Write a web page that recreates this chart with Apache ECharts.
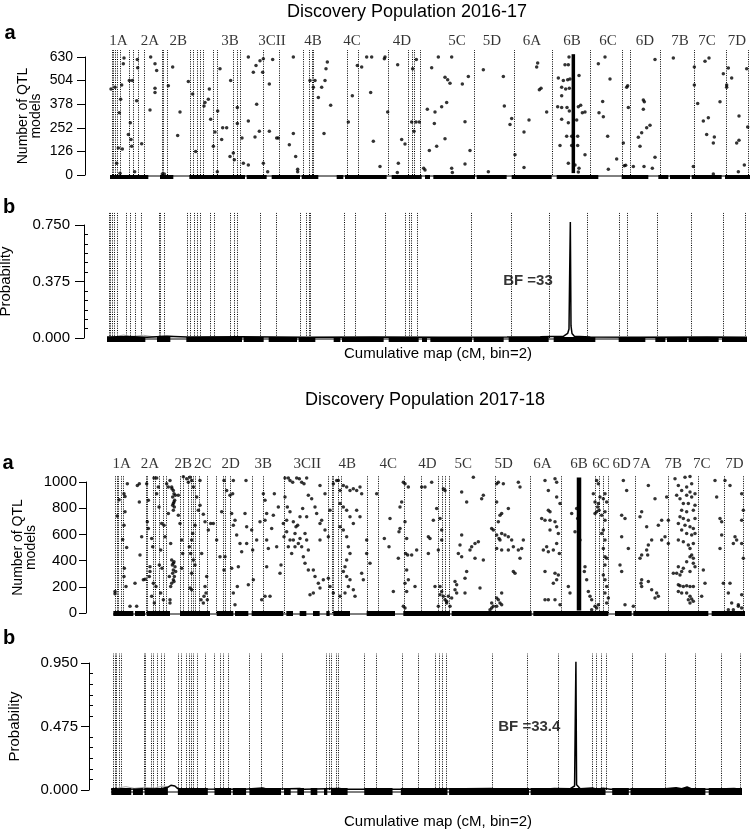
<!DOCTYPE html>
<html><head><meta charset="utf-8">
<script src="https://cdn.jsdelivr.net/npm/echarts@6/dist/echarts.min.js"></script>
<style>html,body{margin:0;padding:0;background:#fff}#c{width:750px;height:831px}</style>
</head><body><div id="c"></div>
<script>
// ===== Discovery Population 2016-17 =====
const title1 = 'Discovery Population 2016-17';
const chrNames1 = ['1A','2A','2B','3B','3CII','4B','4C','4D','5C','5D','6A','6B','6C','6D','7B','7C','7D'];
const chrLabelPos1 = [25,120,205,360,486,609,726,876,1041,1146,1266,1386,1494,1605,1710,1791,1881];
const chrBounds1 = [5,10,15,22,30,58,68,85,102,155,160,170,240,250,260,270,280,310,320,370,382,390,460,508,578,598,605,610,710,745,835,895,905,913,930,1093,1213,1325,1440,1535,1560,1650,1753,1848,1913];
const yTicks1a = [0,126,252,378,504,630];
const yTicks1b = [0,0.375,0.75];
const qtlModels1 = [
[3,459],[15,468],[42,625],[40,594],[35,481],[32,405],[28,333],[25,144],[20,63],[30,9],[37,139],[58,504],[67,504],[82,616],[83,572],[80,396],[61,279],[55,216],[63,189],[65,153],[74,18],
[122,630],[135,594],[140,558],[135,463],[135,441],[120,347],[95,167],
[175,477],[188,576],[210,337],[203,211],[157,5],[163,5],
[235,499],[248,432],[257,126],[282,369],[285,387],[295,405],[298,459],[302,297],[315,229],[310,153],[322,18],[330,567],[323,342],[338,252],[335,189],[350,252],[362,504],[360,99],[370,117],[382,360],[382,275],[373,81],[396,198],[400,63],[415,54],[415,630],
[430,549],[438,585],[450,610],[460,621],[415,288],[435,203],[448,234],[440,378],[458,549],[460,63],[473,18],[478,486],[478,234],[488,617],[500,198],[505,198],[538,162],[550,630],[550,221],[557,99],[563,31],[563,18],
[600,504],[610,468],[615,504],[625,414],[635,468],[645,504],[652,603],[648,567],[662,373],[642,221],
[715,283],[727,423],[742,585],[755,576],[770,630],[785,630],[782,441],[790,180],
[825,630],[823,621],[863,589],[833,337],[810,45],[865,63],[862,13],[875,189],[885,166],[908,567],[919,617],[905,283],[918,283],[912,234],[928,283],[941,36],[945,27],
[985,630],[1025,630],[965,572],[1005,522],[1013,508],[1020,490],[1057,486],[1075,526],[952,351],[975,337],[995,365],[1010,387],[973,275],[958,131],[980,153],[1005,194],[1065,284],[1080,131],[1065,59],[1025,36],[1027,13],
[1120,562],[1180,526],[1183,369],[1205,301],[1200,270],[1135,18],[1215,108],
[1283,598],[1280,576],[1288,455],[1293,463],[1310,337],[1257,293],[1242,230],[1242,40],
[1377,630],[1365,589],[1375,589],[1345,518],[1360,504],[1373,508],[1380,513],[1355,468],[1367,459],[1378,463],[1355,423],[1343,364],[1355,360],[1371,360],[1407,531],[1405,365],[1412,373],[1417,333],[1425,337],[1378,342],[1355,297],[1375,279],[1400,293],[1350,157],[1370,207],[1385,207],[1403,207],[1385,157],[1403,157],[1425,108],[1375,63],[1405,16],[1407,36],[1395,54],
[1465,594],[1485,630],[1500,513],[1478,392],[1467,333],[1480,311],[1493,207],[1520,85],[1495,31],[1540,171],[1553,477],[1550,468],[1555,360],[1543,49],[1547,52],
[1600,400],[1603,391],[1600,351],[1620,265],[1610,252],[1595,225],[1585,202],[1590,153],[1635,616],[1635,95],[1627,36],[1602,45],[1570,45],
[1690,625],
[1753,576],[1785,607],[1797,625],[1753,481],[1763,382],[1795,306],[1780,288],[1790,216],[1813,203],[1810,171],[1750,45],[1810,5],
[1830,391],[1840,540],[1855,571],[1865,518],[1850,468],[1850,481],[1887,315],[1910,567],[1913,256],[1887,185],[1880,171],[1903,54],[1885,18]
];
const peak1 = [[1390,10],[1390,645]];
const baseSegs1 = [[0,115],[150,190],[238,405],[410,470],[485,570],[575,625],[680,700],[705,795],[795,830],[845,935],[945,960],[970,1095],[1100,1190],[1205,1325],[1340,1465],[1535,1615],[1645,1675],[1680,1740],[1745,1835],[1845,1920]];
const prob1 = [[0,0.006],[60,0.01],[120,0.005],[180,0.012],[240,0.006],[400,0.008],[600,0.005],[800,0.006],[1000,0.005],[1200,0.006],[1300,0.008],[1370,0.012],[1382,0.03],[1386,0.06],[1388,0.43],[1390,0.77],[1392,0.08],[1395,0.03],[1402,0.012],[1450,0.006],[1600,0.005],[1800,0.006],[1920,0.005]];
const prob1Grey = [[30,0.012],[50,0.02],[70,0.01],[110,0.018],[140,0.008],[170,0.015],[200,0.01]];
const bf1 = {text:'BF =33', pos:[1263,0.38]};

// ===== Discovery Population 2017-18 =====
const title2 = 'Discovery Population 2017-18';
const chrNames2 = ['1A','2A','2B','2C','2D','3B','3CII','4B','4C','4D','5C','5D','6A','6B','6C','6D','7A','7B','7C','7D'];
const chrLabelPos2 = [26,111,211,269,353,451,583,703,826,943,1051,1172,1288,1398,1464,1526,1586,1681,1766,1864];
const chrBounds2 = [6,11,16,23,31,98,101,121,126,139,151,159,201,209,226,233,239,246,259,283,309,329,336,351,416,451,513,646,656,661,676,683,761,796,874,924,974,986,996,1008,1146,1251,1344,1446,1458,1471,1486,1566,1666,1754,1834,1891];
const yTicks2a = [0,200,400,600,800,1000];
const yTicks2b = [0,0.475,0.95];
const qtlModels2a = [
[6,164],[6,147],[13,740],[18,865],[33,911],[36,890],[36,772],[33,670],[29,562],[41,500],[34,342],[33,278],[39,202],[51,51],[43,987],[71,51],[73,974],[79,987],[79,848],[81,443],[86,582],[91,253],[96,258],[66,228],
[101,987],[106,860],[103,696],[106,645],[111,354],[111,316],[109,278],[116,569],[119,506],[123,1030],[131,1030],[136,961],[131,911],[138,810],[143,481],[139,367],[147,342],[151,101],[143,152],[146,683],[153,670],[156,582],[161,987],[166,759],[121,228],[129,202],[116,127],[124,76],
[176,961],[181,936],[183,911],[179,886],[185,860],[181,835],[184,810],[181,784],[177,949],[187,898],[183,848],[179,822],[176,405],[181,380],[186,354],[181,329],[179,304],[184,278],[181,253],[176,228],[173,202],[169,278],[183,392],[188,316],[178,367],[183,240],[166,961],[171,1012],[173,531],[196,746],[201,683],[206,557],[209,455],[206,342],[196,898],[171,101],[171,76],
[211,1040],[221,1025],[226,999],[231,1037],[236,1012],[241,961],[251,886],[256,784],[246,670],[239,607],[236,557],[229,506],[233,455],[241,405],[246,367],[236,304],[231,190],[236,177],[261,1012],[266,455],[273,127],[264,101],[271,76],[276,202],[279,152],[281,278],[283,101],[276,696],[286,633],[293,683],[261,822],[271,754],
[301,683],[311,557],[321,430],[326,772],[333,1012],[341,936],[351,898],[361,1012],[359,911],[356,759],[361,670],[366,708],[371,595],[381,531],[386,468],[396,759],[401,658],[401,531],[399,1012],[376,354],[373,202],[361,152],[356,342],[366,63],[336,430],[333,329],
[416,633],[419,481],[421,253],[406,215],[431,557],[441,696],[451,911],[456,860],[456,708],[461,759],[461,557],[466,493],[461,354],[471,127],[476,645],[481,746],[484,911],[491,506],[496,810],[501,304],[504,367],[456,127],[446,101],
[516,1030],[526,1030],[531,1012],[539,999],[551,1030],[559,1025],[566,999],[573,987],[581,1030],[516,886],[523,810],[531,772],[541,696],[521,708],[521,620],[531,557],[526,506],[536,455],[546,506],[556,531],[561,569],[566,506],[576,607],[581,557],[571,430],[586,481],[586,898],[596,873],[606,810],[621,974],[636,911],[611,759],[621,683],[626,708],[636,633],[646,582],[621,557],[651,784],[661,987],[671,1012],[601,329],[616,228],[621,190],[631,253],[646,266],[651,202],[661,152],[601,152],[591,139],[576,380],[586,329],[606,278],[541,557],[546,607],[549,658],[554,670],[561,734],[569,797],[581,734],[511,683],[513,582]
];
const qtlModels2b = [
[676,1012],[681,936],[691,974],[701,961],[711,936],[721,949],[731,936],[741,961],[746,911],[681,835],[691,810],[701,784],[711,734],[721,683],[731,784],[741,734],[681,658],[691,633],[701,582],[706,506],[711,455],[701,405],[696,354],[691,316],[701,278],[711,253],[706,202],[696,152],[681,127],[721,177],[726,127],[746,304],[751,253],[761,557],[761,455],[771,380],
[791,911],[814,569],[828,506],[831,721],[861,810],[866,848],[871,999],[876,987],[886,961],[861,645],[858,620],[876,696],[881,569],[878,455],[856,417],[884,443],[881,329],[876,228],[886,253],[896,443],[881,164],[906,202],[841,164],[871,51],[876,38],
[926,961],[936,961],[956,999],[961,708],[946,582],[951,569],[946,455],[971,797],[976,481],[981,721],[986,557],[991,949],[996,936],[986,633],[911,481],[981,202],[986,164],[991,127],[996,101],[1001,76],[981,139],[966,202],[976,51],[1006,127],[1001,89],[1011,51],[1016,114],[1026,240],[1031,215],[1026,177],
[1046,923],[1061,848],[1081,1037],[1111,898],[1106,873],[1046,595],[1041,519],[1036,455],[1046,430],[1071,481],[1076,506],[1086,531],[1096,544],[1086,417],[1111,405],[1056,266],[1061,316],[1101,190],[1056,152],[1031,152],[1136,76],[1136,38],[1141,51],[1131,25],
[1151,987],[1156,999],[1166,759],[1156,696],[1161,746],[1171,987],[1151,848],[1136,645],[1141,633],[1151,595],[1158,569],[1166,607],[1176,595],[1186,582],[1196,557],[1161,557],[1151,493],[1166,481],[1186,481],[1201,506],[1216,481],[1226,493],[1221,417],[1231,557],[1216,999],[1221,961],[1186,797],[1201,316],[1206,304],[1151,114],[1156,101],[1161,76],[1166,63],[1151,51],[1166,152]
];
const qtlModels2c = [
[1296,1012],[1326,1025],[1331,999],[1306,936],[1331,886],[1341,835],[1306,784],[1311,772],[1286,721],[1296,708],[1311,708],[1326,696],[1331,658],[1336,607],[1301,506],[1291,481],[1306,468],[1321,481],[1339,455],[1331,531],[1311,633],[1296,316],[1326,304],[1336,291],[1296,101],[1306,101],[1326,101],[1341,63],[1321,228],[1331,253],[1366,202],[1371,152],[1376,759],[1386,620],[1391,797],[1394,721],[1401,557],
[1416,354],[1414,316],[1421,253],[1426,164],[1431,127],[1436,101],[1446,51],[1436,25],[1441,911],[1451,1012],[1456,987],[1446,848],[1456,835],[1454,810],[1458,784],[1451,772],[1446,759],[1461,886],[1471,873],[1476,911],[1481,848],[1476,772],[1466,746],[1476,708],[1471,633],[1466,607],[1476,557],[1471,493],[1476,430],[1481,417],[1476,367],[1471,291],[1476,253],[1481,202],[1476,152],[1486,114],[1481,76],[1456,63],[1451,38],
[1531,1012],[1541,936],[1526,746],[1536,721],[1526,582],[1546,493],[1521,367],[1526,316],[1536,63],[1561,51],
[1606,974],[1626,873],[1586,772],[1581,734],[1601,658],[1636,670],[1646,708],[1616,557],[1606,519],[1601,481],[1586,443],[1581,417],[1604,443],[1586,253],[1584,228],[1586,202],[1606,240],[1616,177],[1631,152],[1636,127],[1626,114],[1646,557],
[1686,1025],[1716,1037],[1731,1042],[1696,974],[1706,936],[1721,961],[1736,987],[1731,923],[1691,898],[1701,873],[1721,898],[1736,886],[1746,911],[1711,835],[1726,835],[1746,822],[1706,784],[1721,772],[1741,784],[1701,734],[1711,721],[1726,708],[1746,721],[1696,683],[1716,670],[1731,658],[1741,645],[1706,633],[1721,607],[1736,595],[1746,607],[1696,557],[1711,544],[1726,519],[1741,531],[1731,493],[1736,443],[1741,417],[1731,430],[1721,392],[1741,380],[1696,354],[1711,342],[1746,354],[1706,316],[1691,304],[1681,304],[1701,291],[1731,316],[1696,215],[1701,208],[1711,202],[1721,208],[1731,202],[1741,202],[1696,164],[1706,152],[1721,152],[1731,127],[1736,106],[1726,101],[1741,89],[1731,76],[1771,329],[1776,228],[1766,127],[1661,886],[1666,708],[1656,582],[1666,531],
[1806,1012],[1811,886],[1821,721],[1826,696],[1826,595],[1821,493],[1831,228],[1846,152],[1856,76],[1861,25],[1876,63],[1886,38],
[1836,1012],[1851,974],[1886,911],[1891,784],[1886,708],[1866,582],[1871,557],[1861,531],[1886,531],[1891,417],[1851,228],[1886,139],[1876,51],[1846,25]
];
const peak2 = [[1398,20],[1398,1035]];
const baseSegs2 = [[1,61],[66,96],[101,171],[201,291],[311,361],[366,406],[416,511],[520,540],[560,580],[600,620],[640,650],[661,711],[761,846],[871,1011],[1016,1256],[1261,1486],[1506,1556],[1561,1786],[1796,1896]];
const prob2 = [[0,0.005],[100,0.008],[150,0.01],[170,0.02],[180,0.035],[186,0.045],[192,0.03],[200,0.012],[260,0.008],[400,0.006],[456,0.015],[470,0.006],[567,0.012],[580,0.006],[687,0.012],[700,0.006],[900,0.005],[1143,0.012],[1160,0.006],[1300,0.006],[1332,0.012],[1380,0.01],[1393,0.03],[1395,0.52],[1397,0.96],[1399,0.04],[1410,0.01],[1446,0.015],[1460,0.006],[1479,0.014],[1500,0.006],[1650,0.006],[1698,0.016],[1715,0.01],[1731,0.022],[1745,0.008],[1800,0.006],[1872,0.012],[1896,0.006]];
const prob2Grey = [[20,0.015],[45,0.025],[70,0.012],[100,0.02],[130,0.015],[160,0.03],[175,0.018]];
const bf2 = {text:'BF =33.4', pos:[1257,0.47]};
const xName = 'Cumulative map (cM, bin=2)';
// hidden x-axis extents (cM); negative start leaves room between y-axis line and first bin
const xRange = [[-75,1920],[-69,1920],[-81,1896],[-66,1896]];

// ===== chart =====
const SANS = 'Liberation Sans, Arial, sans-serif';
const SERIF = 'Liberation Serif, Times New Roman, serif';
const chart = echarts.init(document.getElementById('c'), null, {renderer:'canvas'});

const grids = [
  {left:85, top:57, width:665, height:118},
  {left:84, top:225, width:663, height:113},
  {left:86, top:482, width:659, height:131},
  {left:89, top:663, width:653, height:127}
].map(g => Object.assign({containLabel:false, outerBoundsMode:'none'}, g));

const xAxes = xRange.map((r,i)=>({type:'value', gridIndex:i, min:r[0], max:r[1], show:false}));

function yAx(gi, ticks, o) {
  const iv = ticks[1]-ticks[0];
  return {
    type:'value', gridIndex:gi, min:ticks[0], max:ticks[ticks.length-1], interval:iv,
    position:'left',
    axisLine:{show:true, onZero:false, lineStyle:{color:'#000', width:1}},
    axisTick:{show:true, length:o.tick, lineStyle:{color:'#000', width:1}},
    axisLabel:{show:true, margin:o.margin, color:'#000', fontSize:o.fs, fontFamily:SANS,
      formatter: v => o.dec ? v.toFixed(3) : String(Math.round(v))},
    splitLine:{show:false},
    name:o.name, nameLocation:'middle', nameGap:o.nameGap, nameRotate:90,
    nameMoveOverlap:false,
    nameTextStyle:{color:'#000', fontSize:o.nfs, fontFamily:SANS, lineHeight:o.lh||16, align:'center'}
  };
}
function minorAx(gi, ticks) {
  return {type:'value', gridIndex:gi, min:ticks[0], max:ticks[ticks.length-1], interval:ticks[1]-ticks[0],
    position:'left', axisLine:{show:false, onZero:false}, axisLabel:{show:false},
    axisTick:{show:false, inside:true}, splitLine:{show:false},
    minorTick:{show:true, splitNumber:6, length:4, lineStyle:{color:'#000', width:1}}};
}
const yAxes = [
  yAx(0, yTicks1a, {tick:8, margin:12, fs:14, name:'Number of QTL\nmodels', nameGap:42, nfs:14, lh:13}),
  yAx(1, yTicks1b, {tick:9, margin:14, fs:15, dec:true, name:'Probability', nameGap:70, nfs:15}),
  minorAx(1, yTicks1b),
  yAx(2, yTicks2a, {tick:7, margin:9, fs:15, name:'Number of QTL\nmodels', nameGap:48, nfs:14, lh:13}),
  yAx(3, yTicks2b, {tick:8, margin:11, fs:15, dec:true, name:'Probability', nameGap:66, nfs:15}),
  minorAx(3, yTicks2b)
];
const yIdx = [0,1,3,4];
const yTop = [yTicks1a, yTicks1b, yTicks2a, yTicks2b].map(t => t[t.length-1]);

// vertical segments between two y values at given x (dotted boundaries or solid y-axis spine)
function vsegs(gi, xs, y0, y1, dash, z) {
  return {type:'custom', xAxisIndex:gi, yAxisIndex:yIdx[gi], silent:true, z:z, clip:false,
    data: xs.map(b=>[b,y0,y1]), encode:{x:0, y:[1,2]},
    renderItem:(p,api)=>{
      const a=api.coord([api.value(0),api.value(1)]), b=api.coord([api.value(0),api.value(2)]);
      const x=Math.round(a[0])+0.5;
      return {type:'line', shape:{x1:x,y1:a[1],x2:x,y2:b[1]},
        style:{stroke:'#000', lineWidth:1, lineDash: dash ? [1,1.3] : null}};
    }};
}
function baseBar(gi, segs, thick, off) {
  return {type:'custom', xAxisIndex:gi, yAxisIndex:yIdx[gi], silent:true, z:3, clip:false,
    data: segs.map(s=>[s[0],s[1],0]), encode:{x:[0,1], y:2},
    renderItem:(p,api)=>{
      const a=api.coord([api.value(0),0]), b=api.coord([api.value(1),0]);
      return {type:'rect', shape:{x:a[0], y:a[1]+off, width:b[0]-a[0], height:thick}, style:{fill:'#000'}};
    }};
}
function baseLine(gi, xm, off) {
  return {type:'custom', xAxisIndex:gi, yAxisIndex:yIdx[gi], silent:true, z:2, clip:false,
    data:[[0,xm,0]], encode:{x:[0,1], y:2},
    renderItem:(p,api)=>{
      const a=api.coord([api.value(0),0]), b=api.coord([api.value(1),0]);
      return {type:'line', shape:{x1:a[0],y1:a[1]+off,x2:b[0],y2:b[1]+off}, style:{stroke:'#000', lineWidth:1}};
    }};
}
function dots(gi, data) {
  return {type:'scatter', xAxisIndex:gi, yAxisIndex:yIdx[gi], data:data, symbol:'circle', symbolSize:3.5,
    itemStyle:{color:'#000'}, clip:false, silent:true, z:4};
}
function peakLine(gi, data, w) {
  return {type:'line', xAxisIndex:gi, yAxisIndex:yIdx[gi], data:data, showSymbol:false, symbol:'none',
    lineStyle:{color:'#000', width:w}, clip:false, silent:true, z:5};
}
function probLine(gi, data, color, w) {
  return {type:'line', xAxisIndex:gi, yAxisIndex:yIdx[gi], data:data, showSymbol:false, symbol:'none',
    lineStyle:{color:color, width:w}, clip:false, silent:true, z:5};
}
function chrLabels(gi, names, pos, ymax, dist) {
  return {type:'scatter', xAxisIndex:gi, yAxisIndex:yIdx[gi], silent:true, clip:false, symbolSize:1,
    itemStyle:{color:'rgba(0,0,0,0)'},
    data: pos.map((p,i)=>({value:[p,ymax], name:names[i]})),
    label:{show:true, position:'top', distance:dist, formatter:'{b}', color:'#000', fontSize:15, fontFamily:SERIF}};
}
function textAt(gi, t) {
  return {type:'scatter', xAxisIndex:gi, yAxisIndex:yIdx[gi], silent:true, clip:false, symbolSize:1,
    itemStyle:{color:'rgba(0,0,0,0)'}, z:6,
    data:[{value:t.pos, name:t.text}],
    label:{show:true, position:'inside', formatter:'{b}', color:'#000', fontSize:15, fontWeight:'bold', fontFamily:SANS}};
}

const series = [
  vsegs(0, chrBounds1, 0, 667, true, 1), vsegs(1, chrBounds1, 0, 0.83, true, 1),
  vsegs(2, chrBounds2, 0, 1050, true, 1), vsegs(3, chrBounds2, 0, 1.02, true, 1),
  vsegs(0, [xRange[0][0]], 0, yTop[0], false, 6), vsegs(1, [xRange[1][0]], 0, yTop[1], false, 6),
  vsegs(2, [xRange[2][0]], 0, yTop[2], false, 6), vsegs(3, [xRange[3][0]], 0, yTop[3], false, 6),
  baseLine(0, 1920, 1), baseBar(0, baseSegs1, 4, 0),
  baseLine(1, 1920, 1), baseBar(1, baseSegs1, 5, -1),
  baseLine(2, 1896, 1), baseBar(2, baseSegs2, 5, -2),
  baseLine(3, 1896, 2), baseBar(3, baseSegs2, 7, -2),
  dots(0, qtlModels1), peakLine(0, peak1, 3.5),
  dots(2, qtlModels2a), dots(2, qtlModels2b), dots(2, qtlModels2c), peakLine(2, peak2, 4.5),
  probLine(1, prob1Grey, '#aaa', 1), probLine(1, prob1, '#000', 1.5),
  probLine(3, prob2Grey, '#aaa', 1), probLine(3, prob2, '#000', 1.5),
  chrLabels(0, chrNames1, chrLabelPos1, 630, 8),
  chrLabels(2, chrNames2, chrLabelPos2, 1000, 10),
  textAt(1, bf1), textAt(3, bf2)
];

function txt(text, x, y, size, bold) {
  return {type:'text', x:x, y:y, silent:true,
    style:{text:text, fill:'#000', font:(bold?'bold ':'')+size+'px '+SANS, textAlign:'center', textVerticalAlign:'middle', align:'center', verticalAlign:'middle'}};
}
const graphics = [
  txt(title1, 407, 12, 18, false),
  txt(title2, 425, 400, 18, false),
  txt('a', 10, 33, 20, true), txt('b', 9, 207, 20, true),
  txt('a', 8, 463, 20, true), txt('b', 9, 638, 20, true),
  txt(xName, 438, 354, 15, false),
  txt(xName, 438, 822, 15, false)
];

chart.setOption({
  animation:false, backgroundColor:'#fff',
  grid:grids, xAxis:xAxes, yAxis:yAxes, series:series, graphic:graphics
});
</script></body></html>
